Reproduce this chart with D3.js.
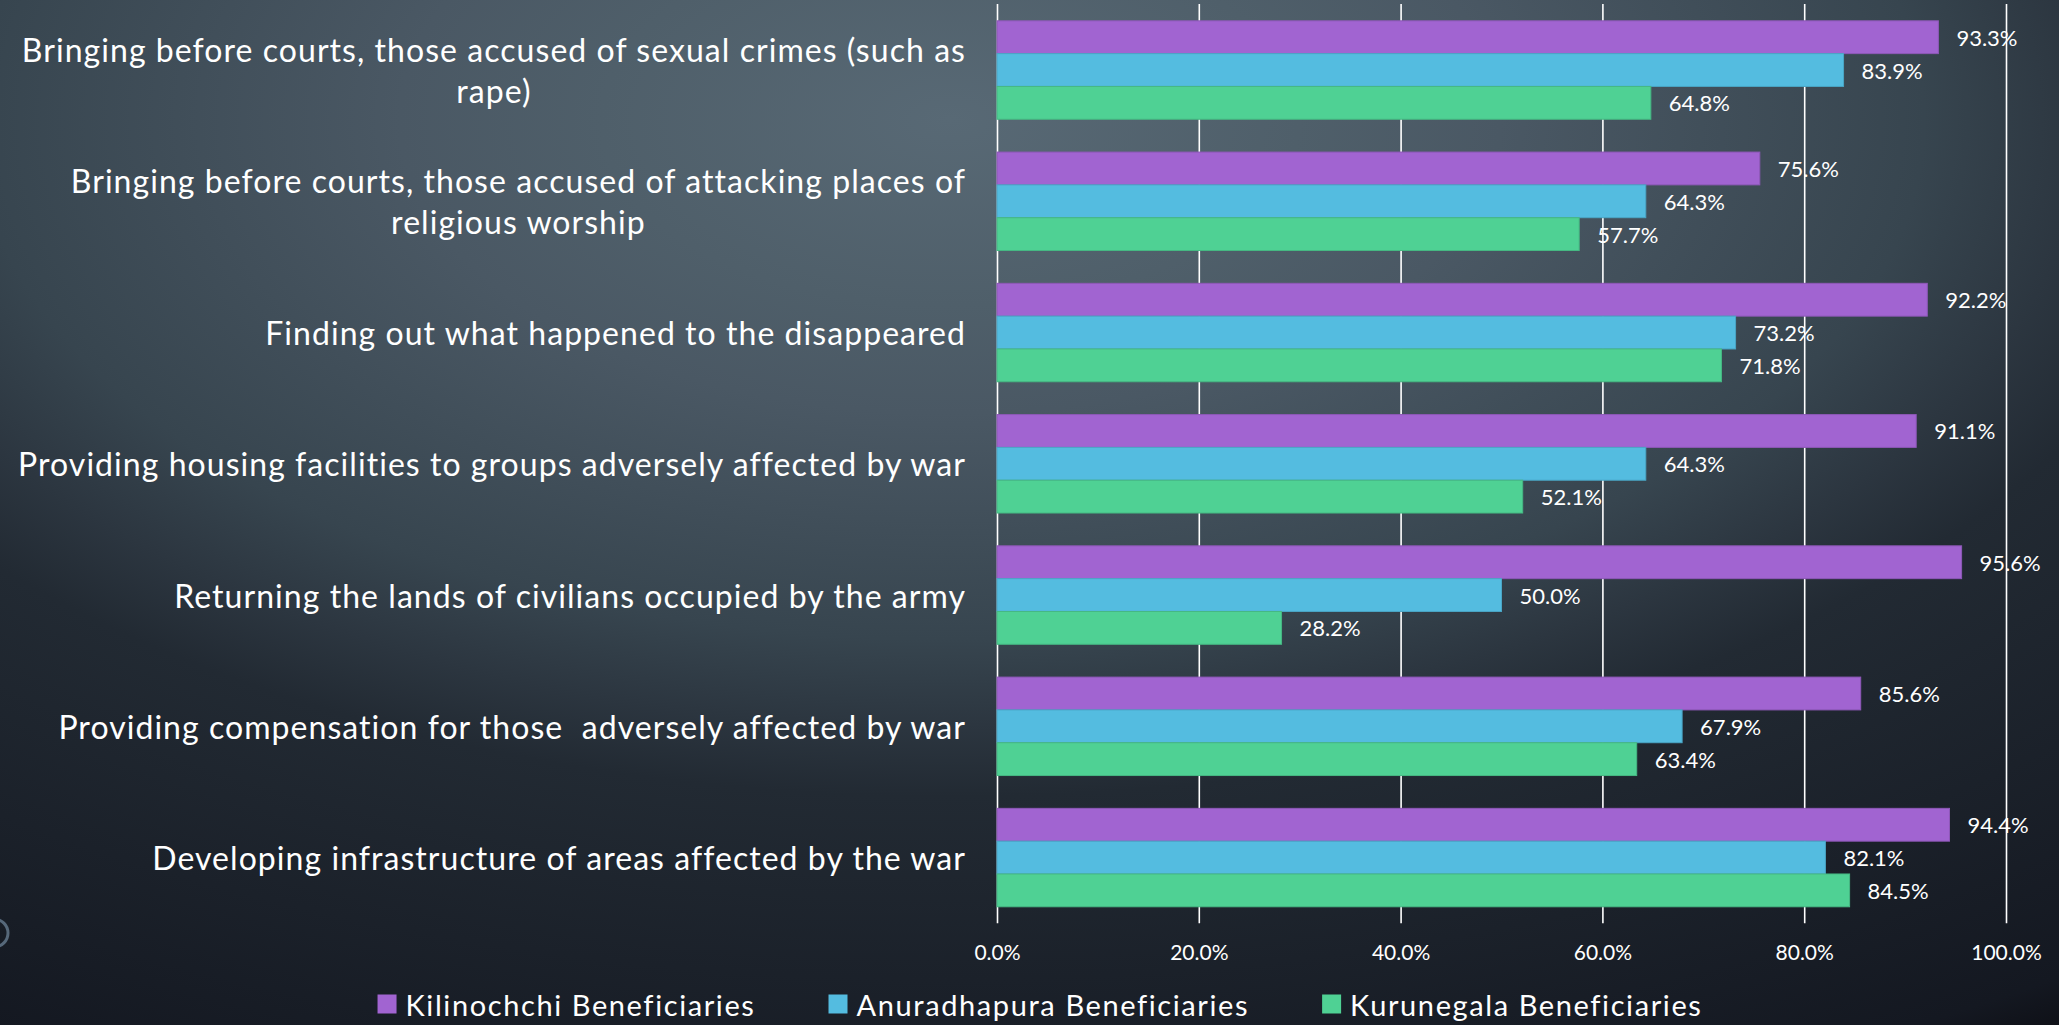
<!DOCTYPE html>
<html>
<head>
<meta charset="utf-8">
<script src="https://cdn.jsdelivr.net/npm/d3@7/dist/d3.min.js"></script>
<style>
  html, body { margin: 0; padding: 0; background: #1a2029; }
  svg { display: block; }
  text { font-family: Lato, "Open Sans", sans-serif; fill: #ffffff; white-space: pre; }
</style>
</head>
<body>
<svg id="chart" width="2059" height="1025"></svg>
<script>
// Survey categories, listed top to bottom ("\n" marks a line break in the label)
const categories = [
  "Bringing before courts, those accused of sexual crimes (such as\nrape)",
  "Bringing before courts, those accused of attacking places of\nreligious worship",
  "Finding out what happened to the disappeared",
  "Providing housing facilities to groups adversely affected by war",
  "Returning the lands of civilians occupied by the army",
  "Providing compensation for those  adversely affected by war",
  "Developing infrastructure of areas affected by the war"
];

const seriesNames = ["Kilinochchi Beneficiaries", "Anuradhapura Beneficiaries", "Kurunegala Beneficiaries"];

// Share of respondents (%) per category
const kilinochchi  = [93.3, 75.6, 92.2, 91.1, 95.6, 85.6, 94.4];
const anuradhapura = [83.9, 64.3, 73.2, 64.3, 50.0, 67.9, 82.1];
const kurunegala   = [64.8, 57.7, 71.8, 52.1, 28.2, 63.4, 84.5];

const tickValues = [0, 20, 40, 60, 80, 100];
const seriesColors = ["#a164d1", "#54bce0", "#4fd194"];

const seriesValues = [kilinochchi, anuradhapura, kurunegala];

const W = 2059, H = 1025;
const svg = d3.select("#chart");

// Background: soft elliptical glow towards the upper middle, fading to near black
const defs = svg.append("defs");
const grad = defs.append("radialGradient")
  .attr("id", "bg")
  .attr("gradientUnits", "userSpaceOnUse")
  .attr("cx", 950).attr("cy", 120).attr("r", 2100)
  .attr("gradientTransform", "translate(950,120) scale(1,0.5333) translate(-950,-120)");
[
  [0.00, "#586975"],
  [0.166, "#4f5f6a"],
  [0.262, "#4a5864"],
  [0.464, "#37454f"],
  [0.54, "#2c3640"],
  [0.604, "#222a33"],
  [0.93, "#141821"],
  [0.964, "#0f1118"],
  [1.00, "#0e1017"]
].forEach(([o, c]) => grad.append("stop").attr("offset", o).attr("stop-color", c));

svg.append("rect").attr("width", W).attr("height", H).attr("fill", "url(#bg)");

// Decorative ring at the left edge
svg.append("circle")
  .attr("cx", -6).attr("cy", 933).attr("r", 14)
  .attr("fill", "none").attr("stroke", "#56687a").attr("stroke-width", 3);

// Scales
const x = d3.scaleLinear().domain([0, 100]).range([997, 2006]);
const y = d3.scaleBand().domain(categories).range([4.4, 923.2])
  .paddingInner(0.25).paddingOuter(0.125);
const ySub = d3.scaleBand().domain(seriesNames).range([0, y.bandwidth()]);

// Vertical gridlines and percentage tick labels
const axis = d3.axisBottom(x)
  .tickValues(tickValues)
  .tickSize(-(923.2 - 4))
  .tickPadding(22)
  .tickFormat(d => d.toFixed(1) + "%");

const gAxis = svg.append("g")
  .attr("transform", "translate(0,923.2)")
  .call(axis);
gAxis.select(".domain").remove();
gAxis.selectAll(".tick line")
  .attr("stroke", "#ffffff").attr("stroke-width", 1.6);
gAxis.selectAll(".tick text")
  .attr("fill", "#ffffff")
  .style("font-family", "Lato, 'Open Sans', sans-serif")
  .style("font-size", "21px");

// Bars
const groups = svg.append("g").selectAll("g")
  .data(categories)
  .join("g")
  .attr("transform", d => `translate(0,${y(d)})`);

groups.each(function(cat, ci) {
  const g = d3.select(this);
  seriesNames.forEach((s, si) => {
    const v = seriesValues[si][ci];
    g.append("rect")
      .attr("x", x(0))
      .attr("y", ySub(s))
      .attr("width", x(v) - x(0))
      .attr("height", ySub.bandwidth())
      .attr("fill", seriesColors[si])
      .attr("stroke", d3.color(seriesColors[si]).darker(0.35))
      .attr("stroke-width", 1);
  });
});

// Value labels to the right of each bar
groups.each(function(cat, ci) {
  const g = d3.select(this);
  seriesNames.forEach((s, si) => {
    const v = seriesValues[si][ci];
    g.append("text")
      .attr("x", x(v) + 18)
      .attr("y", ySub(s) + ySub.bandwidth() / 2)
      .attr("dominant-baseline", "central")
      .style("font-size", "22px")
      .text(v.toFixed(1) + "%");
  });
});

// Category labels: block right-aligned, lines centred within the block
const labelRight = 966;
const lineGap = 40.7;
const labels = svg.append("g");
categories.forEach(cat => {
  const lines = cat.split("\n");
  const t = labels.append("text")
    .style("font-size", "32px")
    .style("letter-spacing", "1.05px")
    .attr("text-anchor", "middle");
  const spans = lines.map((ln, i) => t.append("tspan").text(ln));
  const blockW = d3.max(spans, sp => sp.node().getComputedTextLength());
  const cy = y(cat) + y.bandwidth() / 2;
  const first = cy - (lines.length - 1) * lineGap / 2;
  spans.forEach((sp, i) => {
    sp.attr("x", labelRight - blockW / 2)
      .attr("y", first + i * lineGap)
      .attr("dominant-baseline", "central");
  });
});

// Legend, centred along the bottom
const legend = svg.append("g");
const sq = 19, sqGap = 9, itemGap = 73, legendY = 1004;
const items = seriesNames.map((s, i) => {
  const g = legend.append("g");
  g.append("rect").attr("width", sq).attr("height", sq)
    .attr("y", -sq / 2).attr("fill", seriesColors[i]);
  const t = g.append("text")
    .attr("x", sq + sqGap)
    .attr("dominant-baseline", "central")
    .style("font-size", "29px")
    .style("letter-spacing", "1.6px")
    .text(s);
  return { g, w: sq + sqGap + t.node().getComputedTextLength() };
});
const totalW = d3.sum(items, d => d.w) + itemGap * (items.length - 1);
let lx = 1040 - totalW / 2;
items.forEach(it => {
  it.g.attr("transform", `translate(${lx},${legendY})`);
  lx += it.w + itemGap;
});
</script>
</body>
</html>
